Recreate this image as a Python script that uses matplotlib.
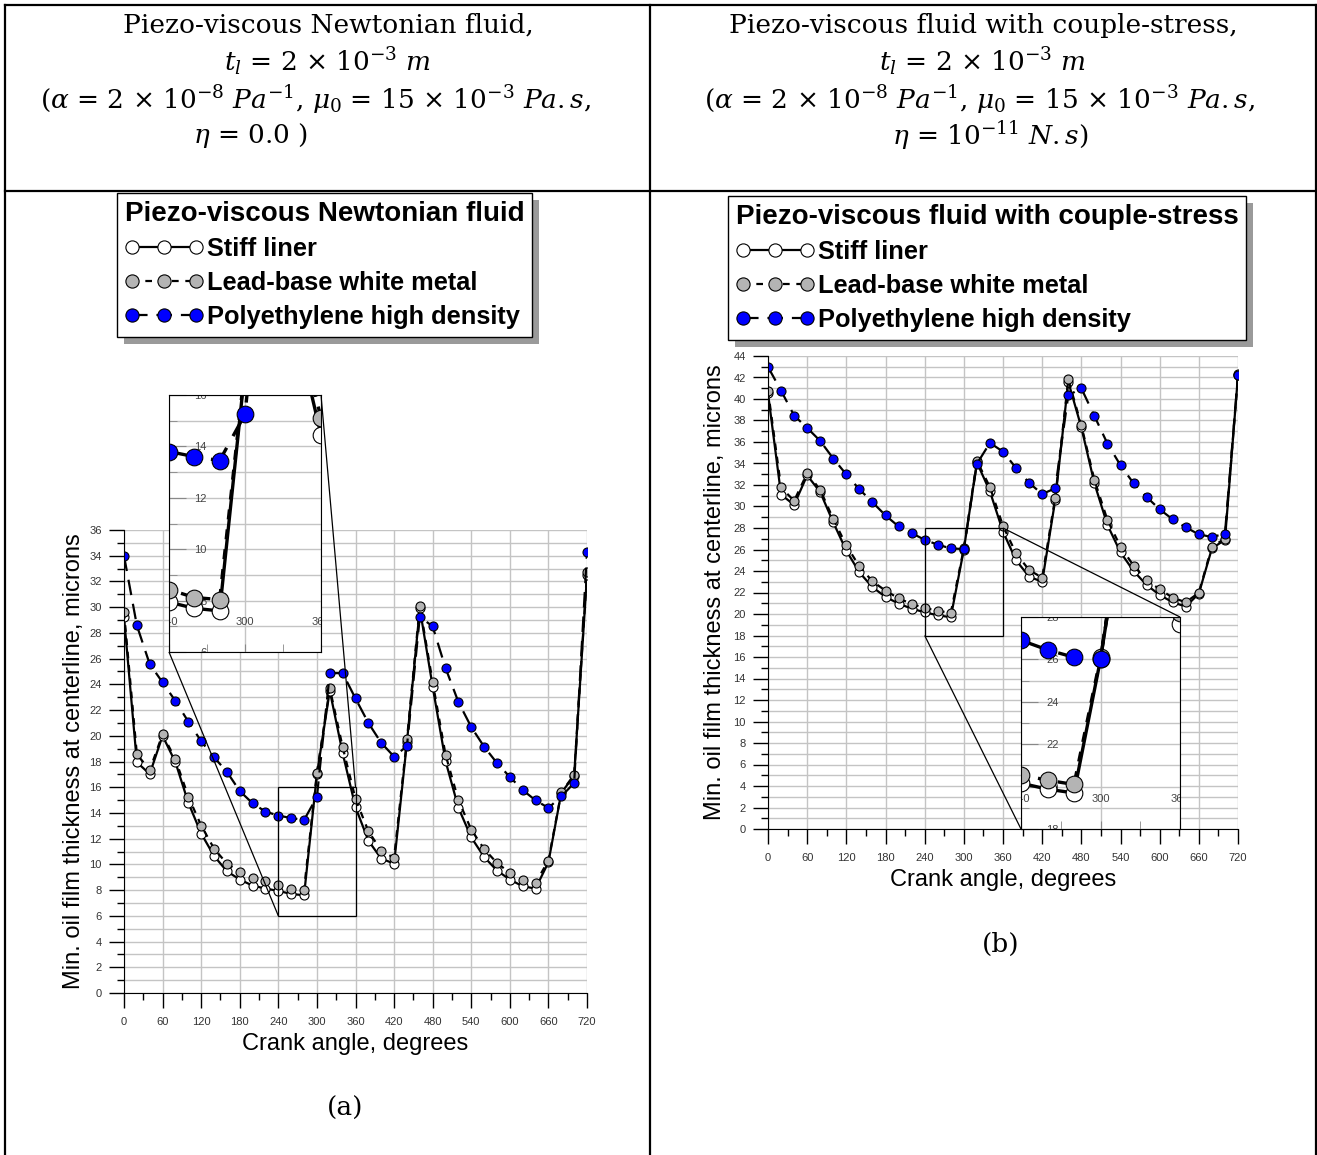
import numpy as np
import matplotlib
matplotlib.use('Agg')
import matplotlib.pyplot as plt
from matplotlib.lines import Line2D
from matplotlib.patches import Rectangle
from mpl_toolkits.axes_grid1.inset_locator import mark_inset

plt.rcParams['font.family'] = ['Liberation Sans', 'DejaVu Sans']
plt.rcParams['mathtext.fontset'] = 'dejavuserif'

# crank angle, every 20 degrees
crank = np.arange(0, 721, 20)

# (a) piezo-viscous newtonian
stiff_a = [29.24, 17.94, 17.03, 20.0, 17.94, 14.8, 12.4, 10.66, 9.47, 8.82, 8.35, 8.12, 7.94, 7.70, 7.6,
           17.0, 23.5, 18.66, 14.45, 11.85, 10.45, 10.06, 19.5, 29.9, 23.82, 18.04, 14.41, 12.1, 10.58,
           9.52, 8.82, 8.3, 8.12, 10.17, 15.56, 16.9, 32.5]
lead_a = [29.63, 18.56, 17.34, 20.12, 18.17, 15.27, 13.02, 11.23, 10.06, 9.39, 8.97, 8.74, 8.43, 8.12, 8.04,
          17.13, 23.7, 19.13, 15.1, 12.58, 11.07, 10.5, 19.72, 30.1, 24.16, 18.53, 15.0, 12.7, 11.2,
          10.11, 9.34, 8.82, 8.56, 10.3, 15.6, 16.97, 32.7]
poly_a = [34.0, 28.58, 25.57, 24.15, 22.7, 21.1, 19.58, 18.33, 17.2, 15.7, 14.75, 14.1, 13.8, 13.6, 13.45,
          15.25, 24.87, 24.87, 22.9, 21.0, 19.45, 18.38, 19.2, 29.26, 28.5, 25.27, 22.63, 20.68, 19.15,
          17.88, 16.8, 15.78, 14.98, 14.39, 15.28, 16.33, 34.3]

# (b) with couple-stress
stiff_b = [40.53, 31.1, 30.16, 32.9, 31.34, 28.52, 25.89, 23.87, 22.5, 21.59, 20.97, 20.5, 20.16, 19.88, 19.7,
           26.0, 34.1, 31.4, 27.66, 25.0, 23.47, 23.0, 30.6, 41.6, 37.37, 32.16, 28.28, 25.74, 24.0,
           22.7, 21.77, 21.09, 20.69, 21.9, 26.1, 26.9, 42.2]
lead_b = [40.78, 31.77, 30.53, 33.1, 31.55, 28.83, 26.38, 24.43, 23.04, 22.17, 21.46, 20.93, 20.56, 20.3, 20.1,
          26.1, 34.25, 31.8, 28.19, 25.64, 24.09, 23.38, 30.82, 41.83, 37.55, 32.47, 28.74, 26.26, 24.5,
          23.16, 22.3, 21.52, 21.09, 21.98, 26.26, 27.0, 42.3]
poly_b = [42.98, 40.78, 38.46, 37.31, 36.1, 34.46, 32.98, 31.6, 30.4, 29.17, 28.15, 27.53, 26.9, 26.45, 26.1,
          26.04, 33.97, 35.92, 35.1, 33.58, 32.2, 31.16, 31.69, 40.34, 41.0, 38.42, 35.85, 33.83, 32.16,
          30.88, 29.74, 28.8, 28.06, 27.41, 27.16, 27.47, 42.23]

names = ['Stiff liner', 'Lead-base white metal', 'Polyethylene high density']
mfcs = ['white', '#b4b4b4', '#0000ff']
styles = ['-', (0, (3, 3)), (0, (7, 4))]

W, H = 1317, 1155
fig = plt.figure(figsize=(W / 100, H / 100), dpi=100)


def fx(px):
    return px / W


def fy(py):
    return 1 - py / H


def hline(y, x0, x1):
    fig.add_artist(Line2D([fx(x0), fx(x1)], [fy(y), fy(y)], color='k', lw=1.6))


def vline(x, y0, y1):
    fig.add_artist(Line2D([fx(x), fx(x)], [fy(y0), fy(y1)], color='k', lw=1.6))


# table frame
hline(5, 5, 1316)
hline(191, 5, 1316)
vline(5, 5, 1155)
vline(650, 5, 1155)
vline(1316, 5, 1155)

sf = dict(family='DejaVu Serif', fontsize=19, ha='center', va='center')
left_head = ['Piezo-viscous Newtonian fluid,',
             r'$t_l$ = 2 × 10$^{-3}$ $m$',
             r'($\alpha$ = 2 × 10$^{-8}$ $Pa^{-1}$, $\mu_0$ = 15 × 10$^{-3}$ $Pa.s$,',
             r'$\eta$ = 0.0 )']
right_head = ['Piezo-viscous fluid with couple-stress,',
              r'$t_l$ = 2 × 10$^{-3}$ $m$',
              r'($\alpha$ = 2 × 10$^{-8}$ $Pa^{-1}$, $\mu_0$ = 15 × 10$^{-3}$ $Pa.s$,',
              r'$\eta$ = 10$^{-11}$ $N.s$)']
left_x = [328, 328, 316, 251]
right_x = [983, 983, 980, 990]
for yy, a, b, xa, xb in zip([25, 62, 100, 136], left_head, right_head, left_x, right_x):
    fig.text(fx(xa), fy(yy), a, **sf)
    fig.text(fx(xb), fy(yy), b, **sf)
fig.text(fx(345), fy(1108), '(a)', family='DejaVu Serif', fontsize=19, ha='center', va='center')
fig.text(fx(1001), fy(944), '(b)', family='DejaVu Serif', fontsize=19, ha='center', va='center')

gridc = '#c4c4c4'


def setup_main(ax, ymax, ypad):
    ax.set_xlim(0, 720)
    ax.set_ylim(0, ymax)
    ax.set_xticks(np.arange(0, 721, 60))
    ax.set_xticks(np.arange(0, 721, 30), minor=True)
    ax.set_yticks(np.arange(0, ymax + 1, 2))
    ax.set_yticks(np.arange(0, ymax + 1, 1), minor=True)
    ax.grid(True, which='major', axis='x', color=gridc, lw=1)
    ax.grid(True, which='both', axis='y', color=gridc, lw=1)
    ax.tick_params(which='major', length=11, width=1, pad=6.5, labelsize=8, labelcolor='#333333')
    ax.tick_params(axis='y', which='major', pad=5)
    ax.tick_params(which='minor', length=5, width=1)
    for s in ['top', 'right']:
        ax.spines[s].set_visible(False)
    ax.set_xlabel('Crank angle, degrees', fontsize=17, labelpad=4)
    ax.set_ylabel('Min. oil film thickness at centerline, microns', fontsize=17, labelpad=ypad)


def draw_series(ax, series, ms, lw):
    for vals, name, fc, ls in zip(series, names, mfcs, styles):
        ax.plot(crank, vals, color='k', lw=lw, ls=ls, marker='o', ms=ms,
                mfc=fc, mec='k', mew=0.8, label=name)


def setup_inset(ax, y0, y1):
    ax.set_xlim(240, 360)
    ax.set_ylim(y0, y1)
    ax.set_xticks([240, 300, 360])
    ax.set_xticks([270, 330], minor=True)
    ax.set_yticks(np.arange(y0, y1 + 1, 2))
    ax.set_yticks(np.arange(y0, y1 + 1, 1), minor=True)
    ax.grid(True, which='major', axis='x', color=gridc, lw=1)
    ax.grid(True, which='both', axis='y', color=gridc, lw=1)
    ax.tick_params(axis='y', which='major', direction='in', length=12, color='#888888',
                   pad=-27, labelsize=8, labelcolor='#444444')
    ax.tick_params(axis='y', which='minor', direction='in', length=6, color='#888888')
    ax.tick_params(axis='x', which='both', direction='in', length=6, color='#888888',
                   pad=-25, labelsize=8, labelcolor='#444444')
    ax.set_facecolor('white')
    for lab in ax.get_xticklabels() + ax.get_yticklabels():
        lab.set_clip_box(ax.bbox)


ax_a = fig.add_axes([fx(124), fy(993), fx(587) - fx(124), fy(530) - fy(993)])
setup_main(ax_a, 36, 3)
draw_series(ax_a, [stiff_a, lead_a, poly_a], 6.5, 1.6)

ax_b = fig.add_axes([fx(768), fy(829), fx(1238) - fx(768), fy(356) - fy(829)])
setup_main(ax_b, 44, 5)
draw_series(ax_b, [stiff_b, lead_b, poly_b], 6.5, 1.6)

in_a = fig.add_axes([fx(169), fy(652), fx(321) - fx(169), fy(395) - fy(652)])
draw_series(in_a, [stiff_a, lead_a, poly_a], 12, 2.4)
setup_inset(in_a, 6, 16)
pp, p1, p2 = mark_inset(ax_a, in_a, loc1=3, loc2=1, fc='none', ec='k', lw=0.9)
pp.set_zorder(3)

in_b = fig.add_axes([fx(1021), fy(829), fx(1180) - fx(1021), fy(617) - fy(829)])
draw_series(in_b, [stiff_b, lead_b, poly_b], 12, 2.4)
setup_inset(in_b, 18, 28)
pp, p1, p2 = mark_inset(ax_b, in_b, loc1=3, loc2=1, fc='none', ec='k', lw=0.9)
pp.set_zorder(3)

# legends
handles = [Line2D([], [], color='k', lw=1.6, ls=ls, marker='o', ms=9.5, mfc=fc, mec='k', mew=0.8)
           for fc, ls in zip(mfcs, styles)]
legs = []
for x0, y0, title in [(117, 193, 'Piezo-viscous Newtonian fluid'),
                      (728, 196, 'Piezo-viscous fluid with couple-stress')]:
    leg = fig.legend(handles, names, loc='upper left', bbox_to_anchor=(fx(x0), fy(y0)),
                     bbox_transform=fig.transFigure, borderaxespad=0, numpoints=3,
                     title=title, title_fontproperties={'size': 20, 'weight': 'bold'},
                     prop={'size': 18.3, 'weight': 'bold'}, fancybox=False, framealpha=1,
                     edgecolor='k', borderpad=0.3, handlelength=3.1, handletextpad=0.15,
                     labelspacing=0.4, handleheight=0.7, alignment='left')
    leg.get_frame().set_linewidth(1.0)
    leg.set_zorder(5)
    legs.append(leg)

fig.canvas.draw()
r = fig.canvas.get_renderer()
inv = fig.transFigure.inverted()
for leg in legs:
    bb = leg.get_window_extent(r)
    (a0, b0), (a1, b1) = inv.transform([[bb.x0 + 7, bb.y0 - 7], [bb.x1 + 7, bb.y1 - 7]])
    fig.add_artist(Rectangle((a0, b0), a1 - a0, b1 - b0, transform=fig.transFigure,
                             facecolor='#9a9a9a', edgecolor='none', zorder=4))

fig.savefig('out.png', dpi=100)
